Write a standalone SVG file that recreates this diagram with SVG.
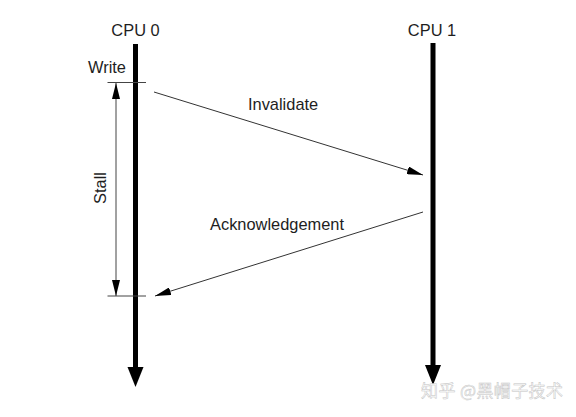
<svg xmlns="http://www.w3.org/2000/svg" width="576" height="417" viewBox="0 0 576 417">
<defs>
<style>
text{font-family:"Liberation Sans",Arial,sans-serif;font-size:16.4px;fill:#1e1e1e}
.cpu{stroke:#000;stroke-width:5;fill:none}
.head{fill:#000}
.msg{stroke:#333;stroke-width:1;fill:none}
.tick{stroke:#444;stroke-width:1;fill:none}
.wm{font-family:"Noto Sans CJK SC","Noto Sans",sans-serif;font-size:17px;fill:#fff;stroke:#c4c4c4;stroke-width:0.5}
</style>
<marker id="ah" viewBox="0 0 16 8" refX="16" refY="4" markerWidth="16" markerHeight="8" markerUnits="userSpaceOnUse" orient="auto-start-reverse">
<path d="M0,0 L16,4 L0,8 Z" fill="#000"/>
</marker>
</defs>
<rect width="576" height="417" fill="#fff"/>
<g id="cpu0">
<text x="135.5" y="36" text-anchor="middle">CPU 0</text>
<line class="cpu" x1="135.5" y1="44" x2="135.5" y2="368"/>
<polygon class="head" points="127.5,367 143.5,367 135.5,387"/>
</g>
<g id="cpu1">
<text x="432" y="36" text-anchor="middle">CPU 1</text>
<line class="cpu" x1="433" y1="43" x2="433" y2="366"/>
<polygon class="head" points="425,365 441,365 433,385"/>
</g>
<g id="write">
<text x="107" y="73" text-anchor="middle">Write</text>
<line class="tick" x1="107.5" y1="82.5" x2="146" y2="82.5"/>
</g>
<g id="stall">
<line class="tick" x1="107.5" y1="296" x2="146" y2="296"/>
<line class="tick" x1="116" y1="83" x2="116" y2="296" marker-start="url(#ah)" marker-end="url(#ah)"/>
<text transform="translate(106,188) rotate(-90)" text-anchor="middle">Stall</text>
</g>
<g id="connectors">
<line class="msg" x1="154" y1="92" x2="423" y2="175" marker-end="url(#ah)"/>
<line class="msg" x1="423" y1="212" x2="155" y2="296" marker-end="url(#ah)"/>
</g>
<g id="labels">
<text x="248" y="110">Invalidate</text>
<text x="210" y="230">Acknowledgement</text>
</g>
<text class="wm" x="421" y="397" textLength="142">知乎 @黑帽子技术</text>
</svg>
